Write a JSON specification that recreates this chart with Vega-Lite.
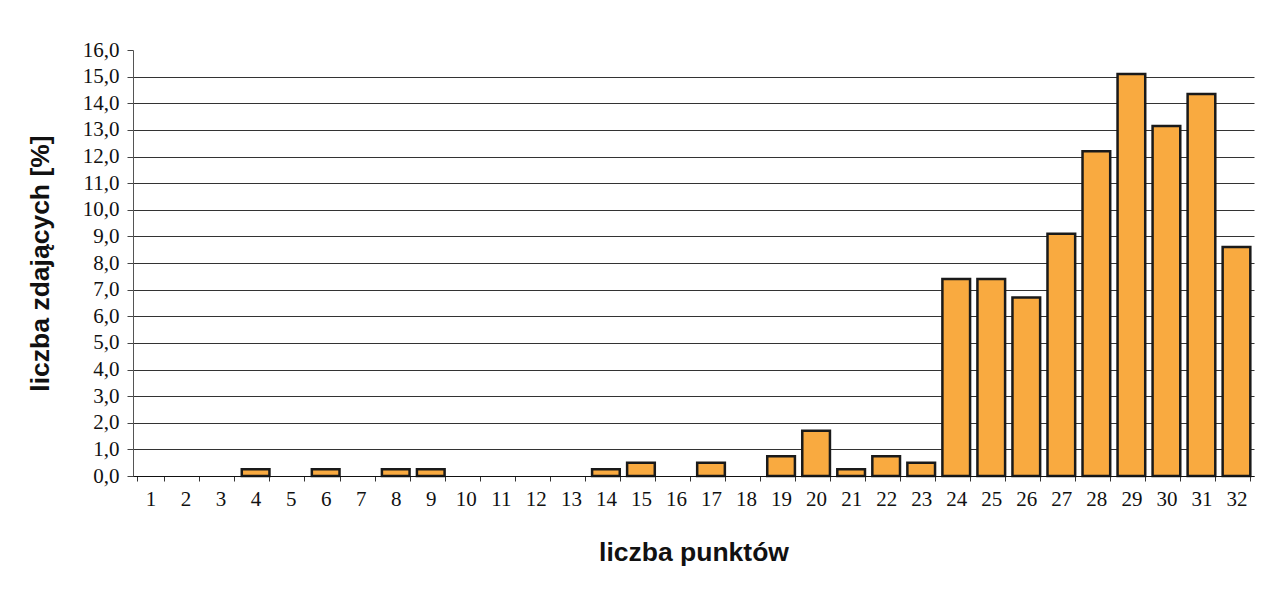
{
  "$schema": "https://vega.github.io/schema/vega-lite/v6.json",
  "autosize": "none",
  "width": 1121,
  "height": 426,
  "padding": {"left": 133, "top": 50, "right": 13, "bottom": 113},
  "background": "white",
  "config": {"view": {"stroke": null}},
  "data": {"values": [
    {"pkt": 1, "v": 0}, {"pkt": 2, "v": 0}, {"pkt": 3, "v": 0}, {"pkt": 4, "v": 0.25},
    {"pkt": 5, "v": 0}, {"pkt": 6, "v": 0.25}, {"pkt": 7, "v": 0}, {"pkt": 8, "v": 0.25},
    {"pkt": 9, "v": 0.25}, {"pkt": 10, "v": 0}, {"pkt": 11, "v": 0}, {"pkt": 12, "v": 0},
    {"pkt": 13, "v": 0}, {"pkt": 14, "v": 0.25}, {"pkt": 15, "v": 0.5}, {"pkt": 16, "v": 0},
    {"pkt": 17, "v": 0.5}, {"pkt": 18, "v": 0}, {"pkt": 19, "v": 0.74}, {"pkt": 20, "v": 1.7},
    {"pkt": 21, "v": 0.25}, {"pkt": 22, "v": 0.74}, {"pkt": 23, "v": 0.5}, {"pkt": 24, "v": 7.4},
    {"pkt": 25, "v": 7.4}, {"pkt": 26, "v": 6.7}, {"pkt": 27, "v": 9.1}, {"pkt": 28, "v": 12.2},
    {"pkt": 29, "v": 15.1}, {"pkt": 30, "v": 13.15}, {"pkt": 31, "v": 14.35}, {"pkt": 32, "v": 8.6}
  ]},
  "mark": {"type": "bar", "fill": "#F9AA40", "stroke": "#1a1a1a", "strokeWidth": 2.5},
  "encoding": {
    "x": {
      "field": "pkt", "type": "ordinal",
      "scale": {"paddingInner": 0.21, "paddingOuter": 0.105},
      "axis": {
        "title": "liczba punktów", "titleFont": "Liberation Sans", "titleFontWeight": "bold",
        "titleFontSize": 26.5, "titleColor": "#111", "titleY": 76, "titleBaseline": "middle",
        "labelAngle": 0, "labelFont": "Liberation Serif", "labelFontSize": 21, "labelColor": "#111",
        "labelPadding": 7, "tickBand": "extent", "tickSize": 5, "tickColor": "#333",
        "domainColor": "#111", "domainWidth": 1.2, "grid": false, "zindex": 1
      }
    },
    "y": {
      "field": "v", "type": "quantitative",
      "scale": {"domain": [0, 16], "nice": false},
      "axis": {
        "title": "liczba zdających [%]", "titleFont": "Liberation Sans", "titleFontWeight": "bold",
        "titleFontSize": 26.5, "titleColor": "#111", "titleX": -93, "titleY": 213,
        "titleAngle": -90, "titleAlign": "center", "titleBaseline": "middle",
        "values": [0,1,2,3,4,5,6,7,8,9,10,11,12,13,14,15,16],
        "labelExpr": "replace(format(datum.value, '.1f'), '.', ',')",
        "labelFont": "Liberation Serif", "labelFontSize": 21, "labelColor": "#111",
        "labelPadding": 8, "tickSize": 6, "tickColor": "#444", "domainColor": "#555",
        "grid": true, "gridColor": "#333", "gridWidth": 1,
        "gridOpacity": {"condition": {"test": "datum.value >= 16", "value": 0}, "value": 1}
      }
    },
    "strokeOpacity": {"condition": {"test": "datum.v == 0", "value": 0}, "value": 1}
  }
}
